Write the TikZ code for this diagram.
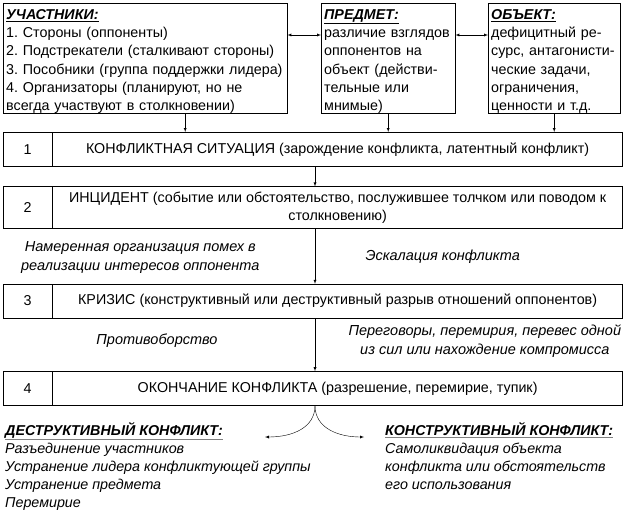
\documentclass[tikz,border=0pt]{standalone}
\usepackage{fontspec}
\setmainfont{Liberation Sans}
\usetikzlibrary{positioning}
\frenchspacing
\newcommand{\hdr}[1]{\rule{0pt}{16pt}\underline{\textbf{\textit{#1}}}}
\newcommand{\ghdr}[1]{{\color{gray}\underline{\color{black}\textbf{\textit{#1}}}}}

\begin{document}
\begin{tikzpicture}[x=1pt, y=-1pt, >=latex,
	every node/.style={font=\fontsize{14.3}{18.3}\selectfont},
	sidebox/.style={draw, anchor=north west, align=left, inner xsep=3pt, inner ysep=0pt, minimum height=110pt},
	numbox/.style={draw, minimum width=49pt, minimum height=34pt, inner sep=0pt},
	stagebox/.style={draw, minimum width=570pt, minimum height=34pt, inner sep=2pt, align=center},
	note/.style={font=\fontsize{14.5}{19}\selectfont\itshape, align=center},
	listtext/.style={font=\fontsize{14.3}{18.1}\selectfont, anchor=north west, align=left, inner sep=2pt}]
	\useasboundingbox (0,0) rectangle (626,511);
	\coordinate (axis) at (315,0);
	
	% participants, subject, object
	\node[sidebox, text width=278pt] (uch) at (3,3) {\hdr{УЧАСТНИКИ:}\\
		1. Стороны (оппоненты)\\
		2. Подстрекатели (сталкивают стороны)\\
		3. Пособники (группа поддержки лидера)\\
		4. Организаторы (планируют, но не\\
		всегда участвуют в столкновении)};
	\node[sidebox, text width=128pt] (pred) at (321,3) {\hdr{ПРЕДМЕТ:}\\
		\mbox{различие взглядов}\\
		оппонентов на\\
		объект (действи-\\
		тельные или\\
		мнимые)};
	\node[sidebox, text width=126pt] (obj) at (488,3) {\hdr{ОБЪЕКТ:}\\
		дефицитный ре-\\
		\mbox{сурс, антагонисти-}\\
		ческие задачи,\\
		ограничения,\\
		ценности и т.д.};
	
	% stages
	\node[numbox, anchor=north west] (n1) at (3,132) {1};
	\node[stagebox, right=0pt of n1] (st1) {КОНФЛИКТНАЯ СИТУАЦИЯ (зарождение конфликта, латентный конфликт)};
	
	\node[numbox, minimum height=42pt, below=20pt of n1] (n2) {2};
	\node[stagebox, minimum height=42pt, right=0pt of n2] (st2) {ИНЦИДЕНТ (событие или обстоятельство, послужившее толчком или поводом к\\столкновению)};
	
	\node[numbox, below=55pt of n2] (n3) {3};
	\node[stagebox, right=0pt of n3] (st3) {КРИЗИС (конструктивный или деструктивный разрыв отношений оппонентов)};
	
	\node[numbox, below=53pt of n3] (n4) {4};
	\node[stagebox, right=0pt of n4] (st4) {ОКОНЧАНИЕ КОНФЛИКТА (разрешение, перемирие, тупик)};
	
	% links between top boxes
	\draw[<->] ([yshift=-32pt]uch.north east) -- ([yshift=-32pt]pred.north west);
	\draw[<->] ([yshift=-32pt]pred.north east) -- ([yshift=-32pt]obj.north west);
	\draw[->] ([xshift=40pt]uch.south) -- ([xshift=40pt]uch.south |- st1.north);
	\draw[->] (pred.south) -- (pred.south |- st1.north);
	\draw[->] (obj.south) -- (obj.south |- st1.north);
	
	% flow of stages
	\draw[->] (st1.south -| axis) -- (st2.north -| axis);
	\draw[->] (st2.south -| axis) -- node[note, pos=0.53, left=52pt] (intent) {Намеренная организация помех в\\реализации интересов оппонента}
		node[note, right=47pt] (escal) {Эскалация конфликта} (st3.north -| axis);
	\draw[->] (st3.south -| axis) -- node[note, pos=0.43, left=94pt] (fight) {Противоборство}
		node[note, pos=0.43, right=30pt] (talks) {Переговоры, перемирия, перевес одной\\из сил или нахождение компромисса} (st4.north -| axis);
	
	% outcomes
	\coordinate (split) at (st4.south -| axis);
	\coordinate (dl) at (265,437);
	\coordinate (cr) at (364,437);
	\draw[->] (split) .. controls (315,428) and (292,437) .. (dl);
	\draw[->] (split) .. controls (315,428) and (338,437) .. (cr);
	
	\node[listtext] (destr) at (3,420) {\ghdr{ДЕСТРУКТИВНЫЙ КОНФЛИКТ:}\\
		\textit{Разъединение участников}\\
		\textit{Устранение лидера конфликтующей группы}\\
		\textit{Устранение предмета}\\
		\textit{Перемирие}};
	\node[listtext] (constr) at (383,420) {\ghdr{КОНСТРУКТИВНЫЙ КОНФЛИКТ:}\\
		\textit{Самоликвидация объекта}\\
		\textit{конфликта или обстоятельств}\\
		\textit{его использования}};
\end{tikzpicture}
\end{document}
